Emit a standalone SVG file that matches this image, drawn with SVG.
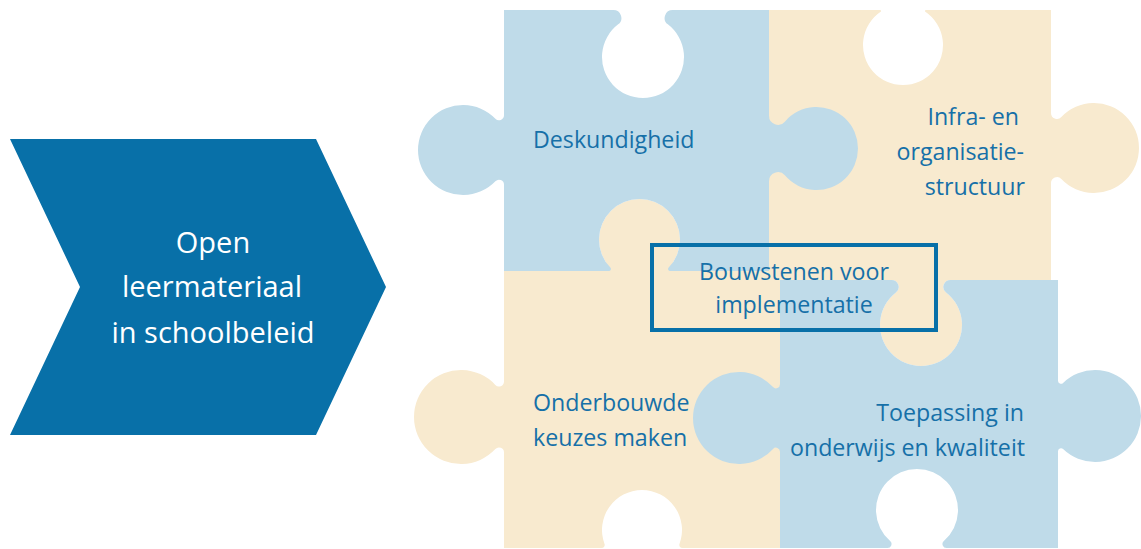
<svg xmlns="http://www.w3.org/2000/svg" width="1141" height="549" viewBox="0 0 1141 549">
  <style>
    .blue { fill: #bfdbe9; }
    .beige { fill: #f8eacf; }
    .lbl { font-family: "Open Sans", "Liberation Sans", sans-serif; font-size: 23.2px; fill: #1670a8; }
    .chev { font-family: "Open Sans", "Liberation Sans", sans-serif; font-size: 29px; fill: #ffffff; text-anchor: middle; }
  </style>
  <rect width="1141" height="549" fill="#ffffff"/>

  <g id="arrow">
    <polygon points="10,139 316,139 386,287 316,435 10,435 80,287" fill="#0870a8"/>
    <text class="chev" x="213" y="252.5">Open</text>
    <text class="chev" x="212" y="297">leermateriaal</text>
    <text class="chev" x="213" y="342.5">in schoolbeleid</text>
  </g>

  <g id="piece-infra">
    <path class="beige" d="M760,10 L880.09,10 A1,1 0 0 1 880.65,11.83 A40,40 0 1 0 925.35,11.83 A1,1 0 0 1 925.91,10 L1051,10 L1051,112.9 A6,6 0 0 0 1061.35,117.03 A45,45 0 1 1 1061.35,178.97 A6,6 0 0 0 1051,183.1 L1051,280 L950.33,280 A7,7 0 0 0 946.05,292.54 A41,41 0 1 1 895.95,292.54 A7,7 0 0 0 891.67,280 L760,280 Z"/>
    <text class="lbl" text-anchor="end"><tspan x="1019" y="125">Infra- en</tspan><tspan x="1024" y="160">organisatie-</tspan><tspan x="1025" y="195">structuur</tspan></text>
  </g>

  <g id="piece-keuzes">
    <path class="beige" d="M504,271 L608.91,271 A2,2 0 0 0 610.35,267.61 A40.5,40.5 0 1 1 668.65,267.61 A2,2 0 0 0 670.09,271 L790,271 L790,548 L682.3,548 A3,3 0 0 1 679.49,543.95 A40,40 0 1 0 604.51,543.95 A3,3 0 0 1 601.7,548 L504,548 L504,452.5 A5,5 0 0 0 495.35,449.09 A47,47 0 1 1 495.35,384.91 A5,5 0 0 0 504,381.5 Z"/>
    <rect class="beige" x="600" y="262" width="200" height="28"/>
    <text class="lbl"><tspan x="533" y="411">Onderbouwde</tspan><tspan x="533" y="446">keuzes maken</tspan></text>
  </g>

  <g id="piece-deskundigheid">
    <path class="blue" d="M504,10 L613.34,10 A8,8 0 0 1 618.18,24.37 A41,41 0 1 0 667.82,24.37 A8,8 0 0 1 672.66,10 L769,10 L769,115.82 A9,9 0 0 0 784.86,121.64 A41.5,41.5 0 1 1 784.86,175.36 A9,9 0 0 0 769,181.18 L769,271 L670.09,271 A2,2 0 0 1 668.65,267.61 A40.5,40.5 0 1 0 610.35,267.61 A2,2 0 0 1 608.91,271 L504,271 L504,184.7 A5,5 0 0 0 495.4,181.23 A45,45 0 1 1 495.4,118.77 A5,5 0 0 0 504,115.3 Z"/>
    <text class="lbl" x="533" y="148">Deskundigheid</text>
  </g>

  <g id="piece-toepassing">
    <path class="blue" d="M780,280 L891.67,280 A7,7 0 0 1 895.95,292.54 A41,41 0 1 0 946.05,292.54 A7,7 0 0 1 950.33,280 L1058,280 L1058,380.72 A3,3 0 0 0 1063.08,382.88 A46,46 0 1 1 1063.08,449.12 A3,3 0 0 0 1058,451.28 L1058,548 L946.48,548 A4,4 0 0 1 943.86,540.98 A41,41 0 1 0 890.14,540.98 A4,4 0 0 1 887.52,548 L780,548 L780,451.63 A4,4 0 0 0 773.04,448.94 A46,46 0 1 1 773.04,387.06 A4,4 0 0 0 780,384.37 Z"/>
    <text class="lbl" text-anchor="end"><tspan x="1024" y="421">Toepassing in</tspan><tspan x="1025" y="456">onderwijs en kwaliteit</tspan></text>
  </g>

  <g id="bouwstenen">
    <rect x="652" y="245" width="284" height="85" fill="none" stroke="#0870a8" stroke-width="4"/>
    <text class="lbl" text-anchor="middle"><tspan x="794" y="280">Bouwstenen voor</tspan><tspan x="794" y="313">implementatie</tspan></text>
  </g>

  <g id="connectors"></g>
</svg>
